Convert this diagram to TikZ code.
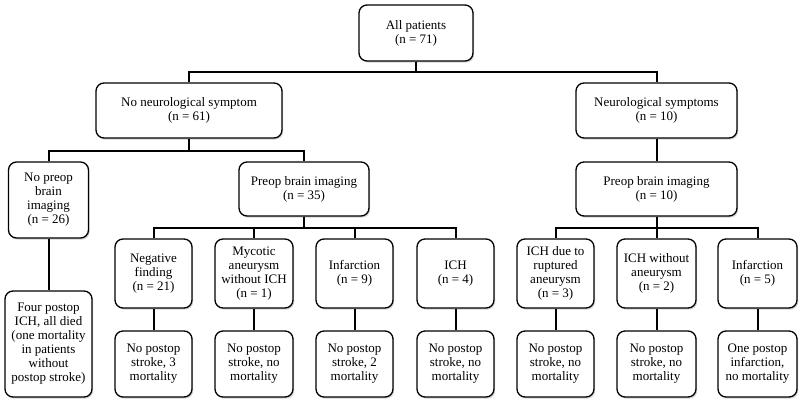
\documentclass[tikz,border=0pt]{standalone}
\usepackage{fontspec}
\setmainfont{Liberation Serif}
\usetikzlibrary{shadows}
\begin{document}
\begin{tikzpicture}[x=1pt,y=-1pt,
    box/.style={draw,rounded corners=8pt,line width=1.3pt,fill=white,
      align=center,inner sep=1pt,font=\fontsize{13}{14}\selectfont,
      drop shadow={shadow xshift=1.2pt,shadow yshift=-1.6pt,opacity=.35}},
    link/.style={line width=2pt}]
  \useasboundingbox (0,0) rectangle (800,407);

  \begin{scope}[every node/.style={box}]
    \node[minimum width=114pt,minimum height=56pt] (all) at (416,33) {All patients\\(n = 71)};
    \node[minimum width=186pt,minimum height=55pt] (nosym) at (189,110.5) {No neurological symptom\\(n = 61)};
    \node[minimum width=161pt,minimum height=55pt] (sym) at (656.5,110.5) {Neurological symptoms\\(n = 10)};

    \node[minimum width=80pt,minimum height=76pt] (noimg) at (48.5,200) {No preop\\brain\\imaging\\(n = 26)};
    \node[minimum width=130pt,minimum height=54pt] (imgl) at (304,189) {Preop brain imaging\\(n = 35)};
    \node[minimum width=161pt,minimum height=54pt] (imgr) at (656.5,189) {Preop brain imaging\\(n = 10)};

    \node[minimum width=87pt,minimum height=106pt] (died) at (48.5,344) {Four postop\\ICH, all died\\(one mortality\\in patients\\without\\postop stroke)};

    \node[minimum width=77pt,minimum height=69pt] (neg) at (153.5,273.5) {Negative\\finding\\(n = 21)};
    \node[minimum width=78pt,minimum height=69pt] (myc) at (254,273.5) {Mycotic\\aneurysm\\without ICH\\(n = 1)};
    \node[minimum width=77pt,minimum height=69pt] (infa) at (354.5,273.5) {Infarction\\(n = 9)};
    \node[minimum width=77pt,minimum height=69pt] (ich) at (455.5,273.5) {ICH\\(n = 4)};
    \node[minimum width=77pt,minimum height=69pt] (ichr) at (555.5,273.5) {ICH due to\\ruptured\\aneurysm\\(n = 3)};
    \node[minimum width=79pt,minimum height=69pt] (ichw) at (656.5,273.5) {ICH without\\aneurysm\\(n = 2)};
    \node[minimum width=79pt,minimum height=69pt] (infb) at (757.5,273.5) {Infarction\\(n = 5)};

    \node[minimum width=77pt,minimum height=66pt] (out1) at (153.5,364) {No postop\\stroke, 3\\mortality};
    \node[minimum width=78pt,minimum height=66pt] (out2) at (254,364) {No postop\\stroke, no\\mortality};
    \node[minimum width=77pt,minimum height=66pt] (out3) at (354.5,364) {No postop\\stroke, 2\\mortality};
    \node[minimum width=77pt,minimum height=66pt] (out4) at (455.5,364) {No postop\\stroke, no\\mortality};
    \node[minimum width=77pt,minimum height=66pt] (out5) at (555.5,364) {No postop\\stroke, no\\mortality};
    \node[minimum width=79pt,minimum height=66pt] (out6) at (656.5,364) {No postop\\stroke, no\\mortality};
    \node[minimum width=79pt,minimum height=66pt] (out7) at (757.5,364) {One postop\\infarction,\\no mortality};
  \end{scope}

  % tree links
  \draw[link] (all.south) -- ++(0,10) -| (nosym.north);
  \draw[link] (all.south) -- ++(0,10) -| (sym.north);
  \draw[link] (nosym.south) -- ++(0,12) -| (noimg.north);
  \draw[link] (nosym.south) -- ++(0,12) -| (imgl.north);
  \draw[link] (sym) -- (imgr);
  \draw[link] (noimg) -- (died);
  \foreach \c in {neg,myc,infa,ich}
    \draw[link] (imgl.south) -- ++(0,11) -| (\c.north);
  \foreach \c in {ichr,ichw,infb}
    \draw[link] (imgr.south) -- ++(0,11) -| (\c.north);
  \foreach \a/\b in {neg/out1,myc/out2,infa/out3,ich/out4,ichr/out5,ichw/out6,infb/out7}
    \draw[link] (\a) -- (\b);

\end{tikzpicture}
\end{document}
